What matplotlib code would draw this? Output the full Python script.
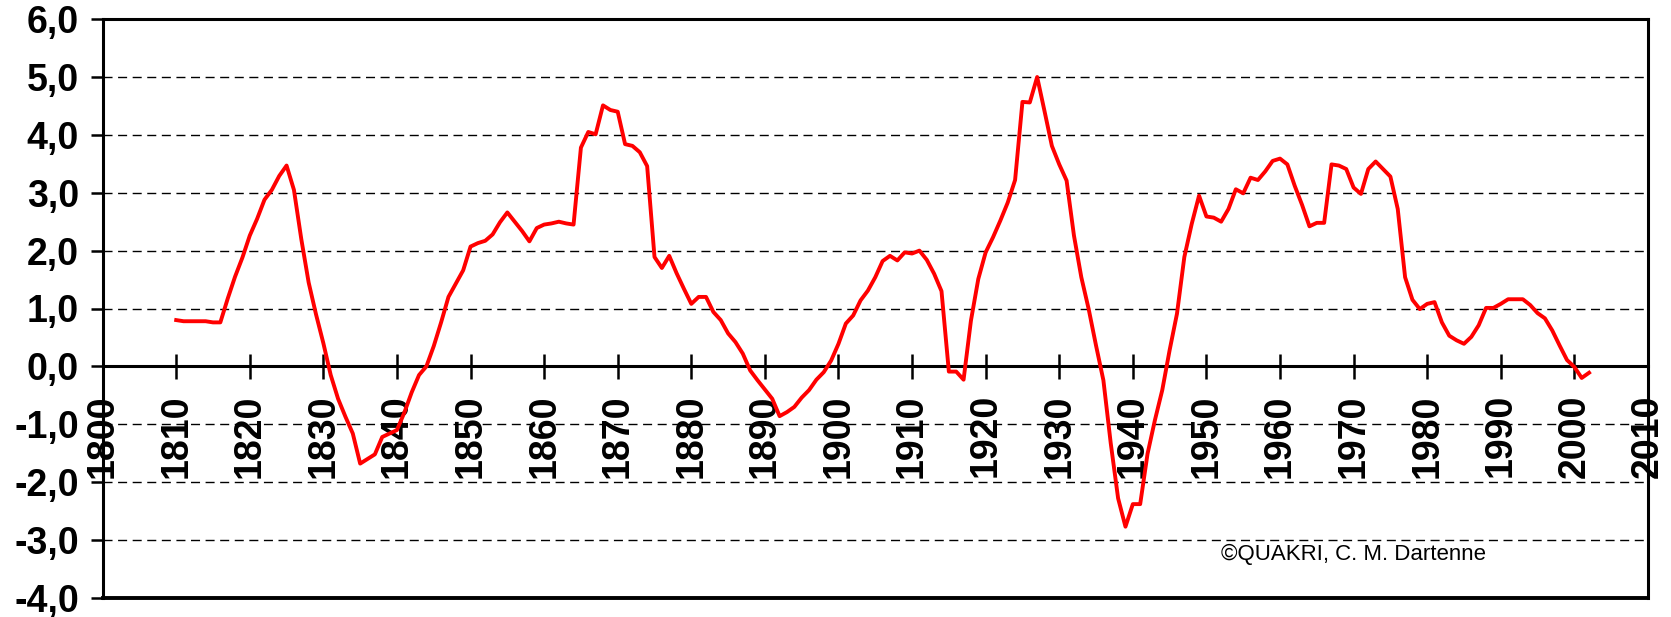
import matplotlib.pyplot as plt
from matplotlib.ticker import FuncFormatter

# yearly values, 1810-2002
years = list(range(1810, 2003))
values = [
    0.80, 0.78, 0.78, 0.78, 0.78, 0.76, 0.76, 1.17, 1.55, 1.88,
    2.26, 2.55, 2.88, 3.05, 3.29, 3.47, 3.05, 2.20, 1.45, 0.90,
    0.40, -0.15, -0.56, -0.87, -1.16, -1.68, -1.60, -1.52, -1.22, -1.16,
    -1.10, -0.80, -0.45, -0.15, 0.00, 0.35, 0.76, 1.20, 1.43, 1.66,
    2.07, 2.13, 2.17, 2.28, 2.49, 2.66, 2.50, 2.34, 2.16, 2.39,
    2.45, 2.47, 2.50, 2.47, 2.45, 3.78, 4.05, 4.01, 4.51, 4.43,
    4.40, 3.84, 3.81, 3.70, 3.46, 1.89, 1.70, 1.91, 1.61, 1.34,
    1.08, 1.20, 1.20, 0.94, 0.80, 0.57, 0.42, 0.22, -0.07, -0.24,
    -0.40, -0.56, -0.86, -0.79, -0.70, -0.54, -0.41, -0.23, -0.10, 0.10,
    0.39, 0.74, 0.88, 1.14, 1.31, 1.54, 1.82, 1.91, 1.83, 1.97,
    1.95, 2.00, 1.84, 1.60, 1.30, -0.09, -0.09, -0.23, 0.79, 1.51,
    1.97, 2.23, 2.52, 2.83, 3.22, 4.57, 4.56, 5.00, 4.41, 3.81,
    3.49, 3.21, 2.26, 1.54, 0.99, 0.36, -0.24, -1.33, -2.28, -2.77,
    -2.38, -2.38, -1.51, -0.93, -0.41, 0.28, 0.91, 1.89, 2.46, 2.95,
    2.59, 2.57, 2.50, 2.72, 3.06, 2.99, 3.26, 3.22, 3.37, 3.55,
    3.59, 3.49, 3.12, 2.79, 2.42, 2.48, 2.48, 3.49, 3.47, 3.41,
    3.09, 2.98, 3.41, 3.54, 3.41, 3.28, 2.72, 1.54, 1.15, 0.99,
    1.08, 1.11, 0.76, 0.53, 0.45, 0.39, 0.51, 0.71, 1.01, 1.01,
    1.08, 1.16, 1.16, 1.16, 1.06, 0.92, 0.83, 0.62, 0.36, 0.11,
    -0.01, -0.20, -0.11,
]

x_ticks = list(range(1800, 2011, 10))
y_ticks = list(range(-4, 7))
grid_levels = [-3, -2, -1, 1, 2, 3, 4, 5]

plt.rcParams['font.family'] = ['Liberation Sans', 'DejaVu Sans']

fig = plt.figure(figsize=(16.71, 6.17), dpi=100)
ax = fig.add_axes([0.0614, 0.031, 0.9248, 0.938])

for lvl in grid_levels:
    ax.axhline(lvl, color='black', lw=1.0, dashes=(6.5, 4), zorder=1)

ax.plot(years, values, color='#ff0000', lw=2.8, zorder=3)

ax.set_xlim(1800, 2010)
ax.set_ylim(-4, 6)

# x axis runs through zero, frame kept at the bottom
ax.spines['bottom'].set_position(('data', 0))
for s in ax.spines.values():
    s.set_linewidth(2.2)
ax.plot([0, 1], [0, 0], transform=ax.transAxes, color='black', lw=2.8,
        clip_on=False, zorder=4)

ax.set_xticks(x_ticks)
ax.set_yticks(y_ticks)
ax.yaxis.set_major_formatter(FuncFormatter(lambda v, p: f"{v:.1f}".replace('.', ',')))

ax.tick_params(axis='x', direction='inout', length=18, width=1.8, pad=11,
               labelsize=27, labelrotation=90)
ax.tick_params(axis='y', direction='out', length=9, width=1.8, pad=8,
               labelsize=27)
for lab in ax.get_xticklabels() + ax.get_yticklabels():
    lab.set_fontweight('bold')

ax.text(1952, -3.25, "\u00a9QUAKRI, C. M. Dartenne", fontsize=16,
        ha='left', va='center')

plt.savefig("out.png", dpi=100)
